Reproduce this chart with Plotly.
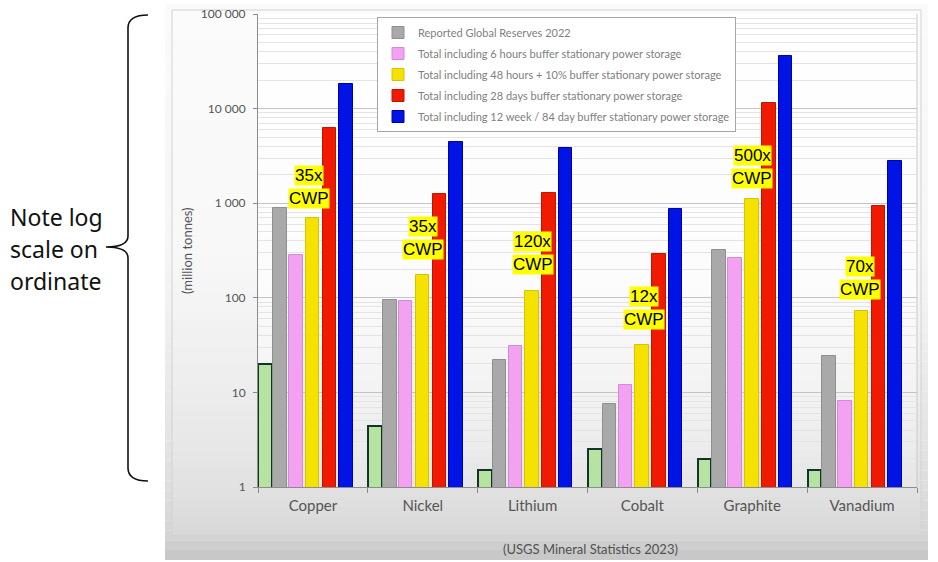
import numpy as np
import plotly.graph_objects as go

W, H = 938, 562

categories = ["Copper", "Nickel", "Lithium", "Cobalt", "Graphite", "Vanadium"]

green_values = [20, 4.4, 1.5, 2.5, 2.0, 1.5]
reserves_2022 = [880, 95, 22, 7.5, 320, 24]
total_6h = [283, 93, 31, 12, 263, 8.1]
total_48h = [700, 174, 118, 32, 1100, 72]
total_28d = [6200, 1250, 1280, 290, 11400, 930]
total_84d = [18200, 4400, 3800, 870, 36000, 2800]

series_names = [
    "Reported Global Reserves 2022",
    "Total including 6 hours buffer stationary power storage",
    "Total including 48 hours + 10% buffer stationary power storage",
    "Total including 28 days buffer stationary power storage",
    "Total including 12 week / 84 day buffer stationary power storage",
]

cwp_labels = ["35x", "35x", "120x", "12x", "500x", "70x"]
cwp_label_level = [1500, 430, 295, 78, 2400, 160]

y_tickvals = [1, 10, 100, 1000, 10000, 100000]
y_ticktext = ["1", "10", "100", "1 000", "10 000", "100 000"]

# ---------------- layout helpers (pixel -> paper) ----------------
def px_x(x):
    return x / W

def px_y(y):
    return 1 - y / H

PLOT_L, PLOT_R, PLOT_T, PLOT_B = 258, 917, 14, 487

fig = go.Figure()

# green bars (not in legend)
fig.add_trace(go.Bar(
    x=categories, y=green_values, name="Current",
    marker=dict(color="#b6e3a1", line=dict(color="#12332b", width=2)),
    offset=-0.497, width=0.125, showlegend=False, hoverinfo="skip",
))

series_values = [reserves_2022, total_6h, total_48h, total_28d, total_84d]
fills = ["#a9a9a9", "#f2a2f0", "#f5e200", "#f01a00", "#0014e6"]
edges = ["#8f8f8f", "#d58ad6", "#d6c400", "#c41400", "#0000a8"]
offsets = [-0.362, -0.217, -0.066, 0.089, 0.240]
for name, vals, fc, ec, off in zip(series_names, series_values, fills, edges, offsets):
    fig.add_trace(go.Bar(
        x=categories, y=vals, name=name, legendgroup=name,
        marker=dict(color=fc, line=dict(color=ec, width=1)),
        offset=off, width=0.123,
    ))

shapes = []

def interp(y, pts):
    ys = [p[0] for p in pts]
    vs = [p[1] for p in pts]
    return float(np.interp(y, ys, vs))

outer_pts = [(0, 250), (250, 246), (400, 232), (487, 222), (535, 212), (562, 196)]
nb = 56
for i in range(nb):
    y0 = 4 + (560 - 4) * i / nb
    y1 = 4 + (560 - 4) * (i + 1) / nb
    g = int(round(interp((y0 + y1) / 2, outer_pts)))
    shapes.append(dict(type="rect", xref="paper", yref="paper",
                       x0=px_x(165), x1=px_x(928), y0=px_y(y1), y1=px_y(y0),
                       fillcolor=f"rgb({g},{g},{g})", line=dict(width=0), layer="below"))

inner_pts = [(0, 251), (250, 248), (400, 236), (487, 226), (535, 216)]
for i in range(nb):
    y0 = 10 + (535 - 10) * i / nb
    y1 = 10 + (535 - 10) * (i + 1) / nb
    g = int(round(interp((y0 + y1) / 2, inner_pts)))
    shapes.append(dict(type="rect", xref="paper", yref="paper",
                       x0=px_x(172), x1=px_x(921), y0=px_y(y1), y1=px_y(y0),
                       fillcolor=f"rgb({g},{g},{g})", line=dict(width=0), layer="below"))
shapes.append(dict(type="rect", xref="paper", yref="paper",
                   x0=px_x(172), x1=px_x(921), y0=px_y(535), y1=px_y(10),
                   line=dict(color="#d2d2d2", width=1), layer="below"))

plot_pts = [(14, 255), (280, 252), (400, 242), (487, 230)]
for i in range(40):
    y0 = PLOT_T + (PLOT_B - PLOT_T) * i / 40
    y1 = PLOT_T + (PLOT_B - PLOT_T) * (i + 1) / 40
    g = int(round(interp((y0 + y1) / 2, plot_pts)))
    shapes.append(dict(type="rect", xref="paper", yref="paper",
                       x0=px_x(PLOT_L), x1=px_x(PLOT_R), y0=px_y(y1), y1=px_y(y0),
                       fillcolor=f"rgb({g},{g},{g})", line=dict(width=0), layer="below"))

shapes.append(dict(type="line", xref="paper", yref="paper",
                   x0=px_x(PLOT_R), x1=px_x(PLOT_R), y0=px_y(PLOT_B), y1=px_y(PLOT_T),
                   line=dict(color="#c8c8c8", width=1), layer="below"))

def P(x, y):
    return f"{px_x(x):.5f},{px_y(y):.5f}"

brace = (f"M {P(148,15)} Q {P(128,15)} {P(128,28)} L {P(128,236)} "
         f"Q {P(128,247)} {P(106,247)} Q {P(128,247)} {P(128,258)} "
         f"L {P(128,468)} Q {P(128,481)} {P(148,481)}")
shapes.append(dict(type="path", xref="paper", yref="paper", path=brace,
                   line=dict(color="#111111", width=1.6)))

annotations = []
for txt, yy in zip(["Note log", "scale on", "ordinate"], [217, 249, 281]):
    annotations.append(dict(xref="paper", yref="paper", x=px_x(8), y=px_y(yy),
                            xanchor="left", yanchor="middle", text=txt, showarrow=False,
                            font=dict(family="Noto Sans", size=23, color="#111111")))

annotations.append(dict(xref="paper", yref="paper", x=px_x(187), y=px_y(251),
                        xanchor="center", yanchor="middle", text="(million tonnes)",
                        textangle=-90, showarrow=False,
                        font=dict(family="Lato", size=13, color="#555555")))

annotations.append(dict(xref="paper", yref="paper", x=px_x(590), y=px_y(549),
                        xanchor="center", yanchor="middle",
                        text="(USGS Mineral Statistics 2023)", showarrow=False,
                        font=dict(family="Lato", size=13, color="#505050")))

label_xshift = [-4, 0, 0, 2, 0, -2]
for cat, lab, lvl, xs in zip(categories, cwp_labels, cwp_label_level, label_xshift):
    for txt, ys in [(lab, 11.5), ("CWP", -11.5)]:
        annotations.append(dict(xref="x", yref="y", x=cat, y=np.log10(lvl),
                                xshift=xs, yshift=ys, text=txt, showarrow=False,
                                xanchor="center", yanchor="middle",
                                bgcolor="#ffff00", borderpad=0,
                                font=dict(family="Liberation Sans", size=17, color="#000000")))

minor_vals = [m * 10 ** k for k in range(0, 5) for m in range(2, 10)]

fig.update_layout(
    width=W, height=H, autosize=False,
    margin=dict(l=0, r=0, t=0, b=0, pad=0, autoexpand=False),
    paper_bgcolor="#ffffff",
    plot_bgcolor="rgba(0,0,0,0)",
    barmode="overlay",
    bargap=0,
    shapes=shapes,
    annotations=annotations,
    showlegend=True,
    legend=dict(
        x=px_x(377), y=px_y(17), xanchor="left", yanchor="top",
        bgcolor="#ffffff", bordercolor="#a6a6a6", borderwidth=1,
        font=dict(family="Lato", size=11, color="#808080"),
        traceorder="grouped", tracegroupgap=2, itemwidth=30,
    ),
    xaxis=dict(
        domain=[px_x(PLOT_L), px_x(PLOT_R)],
        type="category", categoryorder="array", categoryarray=categories,
        range=[-0.5, 5.5], tickson="boundaries", ticks="outside", ticklen=5,
        tickcolor="#8c8c8c", showgrid=False, showline=True, linecolor="#8c8c8c",
        tickfont=dict(family="Lato", size=15, color="#555555"),
        ticklabelstandoff=5, fixedrange=True, automargin=False,
    ),
    yaxis=dict(
        domain=[px_y(PLOT_B), px_y(PLOT_T)],
        type="log", range=[0, 5],
        tickvals=y_tickvals, ticktext=y_ticktext,
        ticks="outside", ticklen=4, tickcolor="#8c8c8c",
        showline=True, linecolor="#8c8c8c",
        showgrid=True, gridcolor="#c4c4c4", gridwidth=1,
        minor=dict(tickvals=minor_vals, showgrid=True, gridcolor="#e4e4e4", ticks=""),
        tickfont=dict(family="Lato", size=12, color="#555555"),
        ticklabelstandoff=5, zeroline=False, fixedrange=True, automargin=False,
    ),
)

fig.write_html("out.html")
